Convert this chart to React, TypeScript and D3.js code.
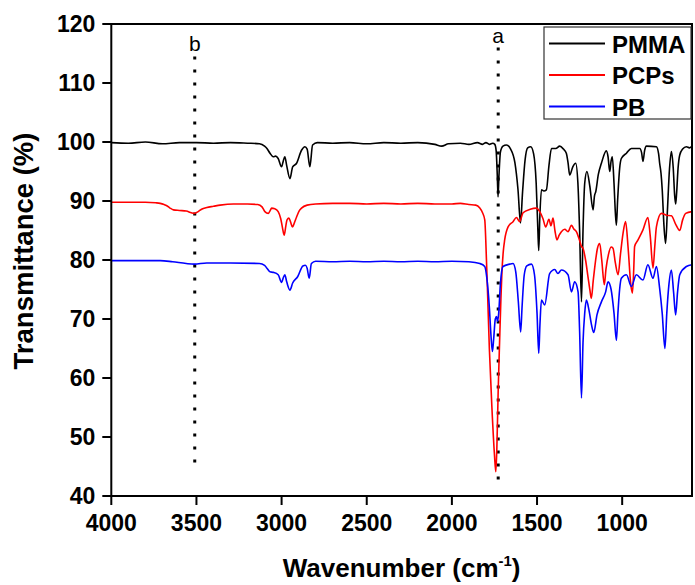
import React from "react"
import * as d3 from "d3"

// wavenumber (cm-1), transmittance (%)
const pmma: [number, number][] = [
  [4000, 99.9], [3900, 99.8], [3800, 100.0], [3700, 99.7], [3600, 99.9], [3500, 99.9],
  [3400, 99.8], [3300, 99.9], [3200, 99.8], [3130, 99.7], [3100, 99.3], [3086, 98.9],
  [3068, 98.1], [3049, 97.5], [3035, 97.6], [3020, 97.2], [3000, 95.8], [2990, 96.8],
  [2981, 97.5], [2970, 96.0], [2951, 93.8], [2935, 95.8], [2912, 96.4], [2883, 98.6],
  [2863, 99.2], [2850, 98.8], [2834, 95.8], [2818, 99.5], [2790, 99.9], [2700, 99.8],
  [2600, 99.9], [2500, 99.7], [2400, 99.9], [2300, 99.8], [2200, 99.9], [2100, 99.6],
  [2060, 99.3], [2020, 99.7], [1950, 99.8], [1900, 99.6], [1850, 99.9], [1820, 99.6],
  [1800, 99.9], [1780, 99.6], [1760, 99.8], [1748, 99.6], [1740, 98.5], [1733, 94.0],
  [1729, 90.7], [1724, 94.0], [1715, 98.3], [1700, 99.3], [1680, 99.5], [1655, 98.8],
  [1630, 96.5], [1612, 92.0], [1597, 86.3], [1585, 91.5], [1570, 97.0], [1555, 99.0],
  [1537, 99.2], [1520, 98.0], [1505, 93.0], [1495, 85.0], [1490, 81.6], [1484, 87.0],
  [1474, 91.9], [1460, 91.7], [1445, 91.9], [1430, 96.0], [1415, 98.9], [1390, 98.9],
  [1367, 99.3], [1345, 98.8], [1328, 98.1], [1318, 96.5], [1308, 94.4], [1290, 95.8],
  [1273, 96.4], [1260, 93.0], [1250, 85.0], [1239, 72.9], [1230, 85.0], [1220, 93.0],
  [1207, 95.0], [1190, 92.5], [1171, 88.5], [1163, 90.8], [1155, 91.6], [1140, 94.5],
  [1122, 96.4], [1093, 98.5], [1083, 97.5], [1073, 95.0], [1065, 96.8], [1058, 97.5],
  [1048, 93.0], [1040, 88.0], [1034, 85.9], [1027, 90.0], [1015, 95.5], [1005, 97.2],
  [975, 98.1], [946, 98.9], [897, 98.9], [886, 98.2], [878, 96.7], [868, 98.6],
  [858, 99.3], [799, 99.2], [786, 98.0], [780, 96.4], [772, 94.7], [765, 92.0],
  [755, 86.0], [745, 82.8], [735, 88.0], [722, 95.5], [711, 98.4], [700, 95.5],
  [692, 91.0], [686, 89.5], [680, 91.5], [672, 95.5], [662, 97.8], [645, 98.8],
  [623, 99.2], [605, 99.0], [590, 99.3],
]

const pcps: [number, number][] = [
  [4000, 89.8], [3900, 89.8], [3800, 89.8], [3740, 89.7], [3713, 89.6], [3690, 89.4],
  [3674, 89.2], [3655, 88.8], [3635, 88.5], [3600, 88.4], [3560, 88.3], [3530, 88.0],
  [3512, 87.9], [3490, 88.2], [3470, 88.6], [3439, 88.9], [3400, 89.1], [3361, 89.3],
  [3283, 89.5], [3200, 89.5], [3140, 89.4], [3115, 89.0], [3098, 88.2], [3078, 87.9],
  [3065, 88.5], [3059, 88.8], [3040, 88.7], [3020, 88.2], [3005, 87.0], [2995, 85.5],
  [2985, 84.2], [2975, 85.8], [2968, 86.8], [2957, 87.1], [2948, 86.5], [2936, 85.6],
  [2925, 86.3], [2912, 87.3], [2895, 88.4], [2883, 88.8], [2850, 89.3], [2800, 89.5],
  [2700, 89.6], [2600, 89.6], [2500, 89.5], [2400, 89.6], [2300, 89.5], [2200, 89.6],
  [2100, 89.5], [2000, 89.5], [1950, 89.6], [1900, 89.4], [1860, 89.3], [1836, 88.8],
  [1820, 88.0], [1807, 86.8], [1797, 80.0], [1790, 74.0], [1780, 65.0], [1765, 55.0],
  [1750, 47.0], [1742, 44.1], [1736, 48.0], [1728, 58.0], [1720, 66.0], [1712, 73.5],
  [1706, 78.0], [1698, 81.5], [1690, 83.4], [1670, 85.6], [1641, 86.5], [1621, 87.2],
  [1602, 86.5], [1582, 88.0], [1540, 88.6], [1504, 88.8], [1484, 88.2], [1465, 87.0],
  [1449, 85.6], [1430, 86.9], [1418, 85.8], [1406, 87.1], [1395, 85.0], [1383, 83.4],
  [1370, 84.2], [1357, 84.8], [1337, 85.2], [1318, 84.8], [1298, 85.9], [1285, 85.3],
  [1269, 84.8], [1250, 83.3], [1239, 82.3], [1230, 82.0], [1215, 80.0], [1201, 77.2],
  [1190, 75.0], [1181, 73.5], [1170, 76.5], [1161, 78.8], [1145, 82.0], [1132, 82.8],
  [1120, 80.0], [1105, 75.8], [1095, 78.5], [1080, 81.0], [1065, 82.2], [1054, 82.0],
  [1040, 79.5], [1024, 77.5], [1010, 81.0], [995, 84.5], [980, 86.5], [965, 82.0],
  [950, 76.0], [940, 74.4], [932, 78.5], [927, 82.3], [907, 83.4], [878, 85.1],
  [849, 87.2], [835, 84.0], [819, 78.6], [808, 82.5], [799, 85.6], [770, 87.9],
  [741, 87.6], [711, 87.5], [685, 86.0], [662, 85.0], [645, 86.8], [627, 87.9],
  [590, 88.2],
]

const pb: [number, number][] = [
  [4000, 79.9], [3900, 79.9], [3800, 79.9], [3713, 79.9], [3640, 79.7], [3560, 79.4],
  [3512, 79.3], [3440, 79.5], [3300, 79.5], [3130, 79.4], [3100, 79.1], [3086, 78.6],
  [3068, 78.0], [3049, 77.9], [3020, 77.5], [3000, 76.2], [2990, 77.0], [2981, 77.5],
  [2970, 76.3], [2951, 74.9], [2935, 76.1], [2905, 77.2], [2875, 79.0], [2860, 79.1],
  [2850, 78.6], [2838, 76.9], [2825, 79.4], [2800, 79.8], [2700, 79.7], [2600, 79.8],
  [2500, 79.7], [2400, 79.8], [2300, 79.7], [2200, 79.8], [2100, 79.7], [2000, 79.8],
  [1900, 79.7], [1836, 79.4], [1807, 78.9], [1795, 77.0], [1780, 72.0], [1770, 67.0],
  [1762, 64.5], [1755, 66.5], [1745, 70.0], [1738, 70.4], [1732, 69.6], [1725, 71.0],
  [1715, 76.0], [1700, 78.9], [1660, 79.3], [1641, 79.4], [1625, 78.0], [1610, 73.0],
  [1596, 67.8], [1588, 72.0], [1575, 77.5], [1560, 79.0], [1533, 79.3], [1515, 77.5],
  [1500, 71.0], [1490, 64.2], [1483, 69.0], [1474, 73.2], [1455, 72.4], [1426, 77.7],
  [1396, 78.4], [1377, 77.7], [1357, 78.3], [1318, 77.5], [1298, 74.6], [1279, 76.3],
  [1259, 74.6], [1250, 68.0], [1239, 56.6], [1230, 66.0], [1220, 71.0], [1210, 73.2],
  [1195, 71.5], [1180, 69.0], [1167, 67.7], [1148, 70.7], [1122, 72.9], [1097, 74.6],
  [1083, 76.3], [1065, 75.0], [1048, 71.0], [1034, 66.4], [1025, 71.0], [1015, 75.0],
  [1005, 76.9], [975, 77.5], [946, 75.5], [917, 77.5], [878, 76.6], [849, 79.2],
  [819, 76.9], [799, 78.9], [780, 75.2], [765, 71.0], [749, 65.0], [738, 71.0],
  [725, 76.0], [711, 78.3], [698, 74.5], [686, 70.7], [675, 74.5], [662, 77.5],
  [623, 78.9], [590, 79.2],
]

const series = [
  { name: "PMMA", color: "#000000", data: pmma },
  { name: "PCPs", color: "#ff0000", data: pcps },
  { name: "PB", color: "#0000ff", data: pb },
]

const xTicks = [4000, 3500, 3000, 2500, 2000, 1500, 1000]
const yTicks = [40, 50, 60, 70, 80, 90, 100, 110, 120]

// marker lines: label, wavenumber, from/to transmittance
const markers = [
  { label: "b", wn: 3510, from: 45.3, to: 114.5 },
  { label: "a", wn: 1728, from: 42.4, to: 116 },
]

const W = 695
const H = 585
const left = 111.3
const right = 692
const top = 24
const bottom = 496
const font = "'Liberation Sans', Arial, sans-serif"

export default function App() {
  const x = d3.scaleLinear().domain([4000, 590]).range([left, right])
  const y = d3.scaleLinear().domain([40, 120]).range([bottom, top])
  const line = d3
    .line<[number, number]>()
    .x(d => x(d[0]))
    .y(d => y(d[1]))
    .curve(d3.curveMonotoneX)

  return (
    <svg width={W} height={H} style={{ position: "absolute", left: 0, top: 0 }}
      fontFamily={font}>
      <rect width={W} height={H} fill="#fff" />
      <defs>
        <clipPath id="plot">
          <rect x={left} y={top} width={right - left} height={bottom - top} />
        </clipPath>
      </defs>

      {markers.map(m => (
        <g key={m.label}>
          <line x1={x(m.wn)} x2={x(m.wn)} y1={y(m.to)} y2={y(m.from)}
            stroke="#000" strokeWidth={3} strokeDasharray="3 10" />
          <text x={x(m.wn)} y={y(m.to) - 5} textAnchor="middle" fontSize={21}>
            {m.label}
          </text>
        </g>
      ))}

      <g clipPath="url(#plot)">
        {series.map(s => (
          <path key={s.name} d={line(s.data) || ""} fill="none"
            stroke={s.color} strokeWidth={1.6} strokeLinejoin="round" />
        ))}
      </g>

      <rect x={left} y={top} width={right - left} height={bottom - top}
        fill="none" stroke="#000" strokeWidth={2} />

      {yTicks.map(t => (
        <g key={t}>
          <line x1={left - 9} x2={left} y1={y(t)} y2={y(t)} stroke="#000" strokeWidth={2} />
          <text x={left - 16} y={y(t) + 8} textAnchor="end" fontSize={23} fontWeight="bold">
            {t}
          </text>
        </g>
      ))}
      {xTicks.map(t => (
        <g key={t}>
          <line x1={x(t)} x2={x(t)} y1={bottom} y2={bottom + 9} stroke="#000" strokeWidth={2} />
          <text x={x(t)} y={bottom + 35} textAnchor="middle" fontSize={23} fontWeight="bold">
            {t}
          </text>
        </g>
      ))}

      <text transform={`translate(33,251) rotate(-90)`} textAnchor="middle"
        fontSize={27.5} fontWeight="bold">
        Transmittance (%)
      </text>
      <text x={(left + right) / 2} y={577} textAnchor="middle" fontSize={26} fontWeight="bold">
        Wavenumber (cm<tspan fontSize={15} dy={-11}>-1</tspan><tspan dy={11}>)</tspan>
      </text>

      <g transform="translate(544,27)">
        <rect width={147} height={92} fill="#fff" stroke="#333" strokeWidth={1.2} />
        {series.map((s, i) => (
          <g key={s.name} transform={`translate(0,${16.5 + i * 31.5})`}>
            <line x1={5} x2={61} stroke={s.color} strokeWidth={2} />
            <text x={68} y={9} fontSize={24} fontWeight="bold">{s.name}</text>
          </g>
        ))}
      </g>
    </svg>
  )
}
